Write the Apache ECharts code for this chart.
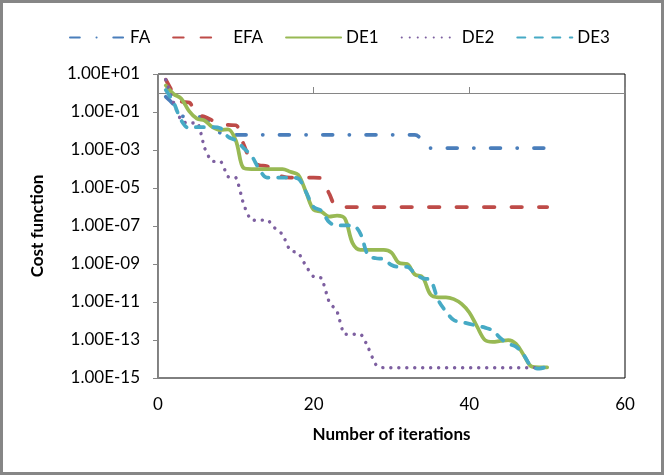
<!DOCTYPE html>
<html>
<head>
<meta charset="utf-8">
<script src="https://cdn.jsdelivr.net/npm/echarts@6/dist/echarts.min.js"></script>
<style>
  html, body { margin: 0; padding: 0; background: #fff; }
  #chart { width: 664px; height: 475px; }
</style>
</head>
<body>
<div id="chart"></div>
<script>
// log10 of the cost function, iteration 1..50
var faLog = [-0.2, -0.6, -1.2, -1.25, -1.25, -1.3, -1.8, -2.1, -2.2, -2.2,
  -2.2, -2.2, -2.2, -2.2, -2.2, -2.2, -2.2, -2.2, -2.2, -2.2,
  -2.2, -2.2, -2.2, -2.2, -2.2, -2.2, -2.2, -2.2, -2.2, -2.2,
  -2.2, -2.2, -2.2, -2.5, -2.9, -2.9, -2.9, -2.9, -2.9, -2.9,
  -2.9, -2.9, -2.9, -2.9, -2.9, -2.9, -2.9, -2.9, -2.9, -2.9];
var efaLog = [0.7, 0.0, -0.45, -0.5, -1.15, -1.25, -1.45, -1.65, -1.68, -1.7,
  -2.7, -3.6, -3.8, -3.85, -4.2, -4.4, -4.45, -4.45, -4.45, -4.45,
  -4.5, -5.3, -6.0, -6.0, -6.0, -6.0, -6.0, -6.0, -6.0, -6.0,
  -6.0, -6.0, -6.0, -6.0, -6.0, -6.0, -6.0, -6.0, -6.0, -6.0,
  -6.0, -6.0, -6.0, -6.0, -6.0, -6.0, -6.0, -6.0, -6.0, -6.0];
var de1Log = [0.4, -0.05, -0.3, -0.95, -1.35, -1.45, -1.8, -1.95, -1.92, -2.5,
  -3.95, -4.0, -4.0, -4.0, -4.0, -4.0, -4.15, -4.3, -5.2, -6.15,
  -6.25, -6.5, -6.45, -6.6, -7.9, -8.25, -8.25, -8.25, -8.25, -8.4,
  -8.95, -9.0, -9.55, -9.7, -10.6, -10.75, -10.75, -10.85, -11.1, -11.55,
  -12.3, -13.0, -13.1, -13.05, -13.0, -13.2, -13.8, -14.4, -14.44, -14.44];
var de2Log = [0.7, -0.5, -1.45, -1.6, -1.55, -2.9, -3.6, -3.6, -4.4, -4.45,
  -5.85, -6.68, -6.7, -6.68, -7.1, -7.45, -8.3, -8.4, -9.1, -9.67,
  -9.75, -11.0, -11.5, -12.7, -12.7, -12.7, -13.4, -14.3, -14.46, -14.46,
  -14.46, -14.46, -14.46, -14.46, -14.46, -14.46, -14.46, -14.46, -14.46, -14.46,
  -14.46, -14.46, -14.46, -14.46, -14.46, -14.46, -14.46, -14.46, -14.46, -14.46];
var de3Log = [0.16, -0.5, -1.45, -1.85, -1.8, -1.8, -1.8, -1.85, -2.3, -2.5,
  -2.9, -3.3, -4.0, -4.45, -4.45, -4.45, -4.45, -4.5, -5.2, -6.0,
  -6.2, -6.8, -6.97, -6.97, -6.97, -7.4, -8.55, -8.7, -8.75, -9.05,
  -9.15, -9.15, -9.5, -9.75, -9.85, -10.9, -11.5, -11.95, -12.05, -12.15,
  -12.25, -12.35, -12.5, -12.9, -13.2, -13.35, -13.8, -14.4, -14.5, -14.4];

var seriesNames = ['FA', 'EFA', 'DE1', 'DE2', 'DE3'];
var colors = ['#4A7EBB', '#BE4B48', '#98B954', '#7D5FA0', '#46AAC5'];

var font = 'Lato, "Liberation Sans", sans-serif';

// 1 -> "1.00E+01", -3 -> "1.00E-03"
function sciLabel(v) {
  var e = Math.round(v);
  var s = e < 0 ? '-' : '+';
  var a = Math.abs(e);
  return '1.00E' + s + (a < 10 ? '0' + a : a);
}

function toPairs(arr) {
  return arr.map(function (v, i) { return [i + 1, v]; });
}

var chart = echarts.init(document.getElementById('chart'), null, { renderer: 'canvas' });

var lineTypes = [
  [9.8, 16.7, 0.1, 16.7],  // dash-dot
  [10.5, 17],              // long dash
  'solid',
  [0.1, 7.9],              // round dots
  [8, 9.5]                 // dash
];
var allData = [faLog, efaLog, de1Log, de2Log, de3Log];

var series = allData.map(function (arr, k) {
  return {
    name: seriesNames[k],
    type: 'line',
    data: toPairs(arr),
    symbol: 'none',
    smooth: k === 3 ? 0.2 : 0.35,
    lineStyle: {
      color: colors[k],
      width: k === 3 ? 3.4 : 3.75,
      type: lineTypes[k],
      cap: 'round'
    },
    itemStyle: { color: colors[k] },
    animation: false
  };
});

var option = {
  backgroundColor: '#fff',
  animation: false,
  color: colors,
  legend: {
    data: seriesNames,
    left: 64,
    top: 24,
    itemWidth: 55,
    itemHeight: 14,
    itemGap: 22,
    itemStyle: { opacity: 0 },
    textStyle: { fontFamily: font, fontSize: 17, color: '#000' }
  },
  grid: {
    left: 158,
    right: 39,
    top: 74,
    bottom: 97,
    show: true,
    borderColor: '#000',
    borderWidth: 1,
    backgroundColor: 'transparent'
  },
  xAxis: [
    {
      type: 'value',
      min: 0,
      max: 60,
      interval: 20,
      name: 'Number of iterations',
      nameLocation: 'middle',
      nameGap: 48,
      nameTextStyle: { fontFamily: font, fontSize: 17, fontWeight: 'bold', color: '#000' },
      axisLine: { show: false, onZero: false },
      axisTick: { show: false },
      splitLine: { show: false },
      axisLabel: { fontFamily: font, fontSize: 17, color: '#000', margin: 18 }
    },
    {
      type: 'value',
      min: 0,
      max: 60,
      interval: 20,
      axisLine: { show: true, onZero: true, lineStyle: { color: '#868686', width: 1 } },
      axisTick: { show: true, length: 6, lineStyle: { color: '#868686' } },
      axisLabel: { show: false },
      splitLine: { show: false }
    }
  ],
  yAxis: {
    type: 'value',
    min: -15,
    max: 1,
    interval: 2,
    name: 'Cost function',
    nameLocation: 'middle',
    nameGap: 112,
    nameTextStyle: { fontFamily: font, fontSize: 17, fontWeight: 'bold', color: '#000' },
    axisLine: { show: true, lineStyle: { color: '#868686', width: 1 } },
    axisTick: { show: true, length: 5, lineStyle: { color: '#868686' } },
    splitLine: { show: false },
    axisLabel: {
      fontFamily: font,
      fontSize: 17,
      color: '#000',
      margin: 18,
      formatter: sciLabel
    }
  },
  graphic: [{
    type: 'rect',
    shape: { x: 1.5, y: 1.5, width: 661, height: 472 },
    style: { fill: null, stroke: '#868686', lineWidth: 3 },
    silent: true
  }],
  series: series
};

chart.setOption(option);
</script>
</body>
</html>
